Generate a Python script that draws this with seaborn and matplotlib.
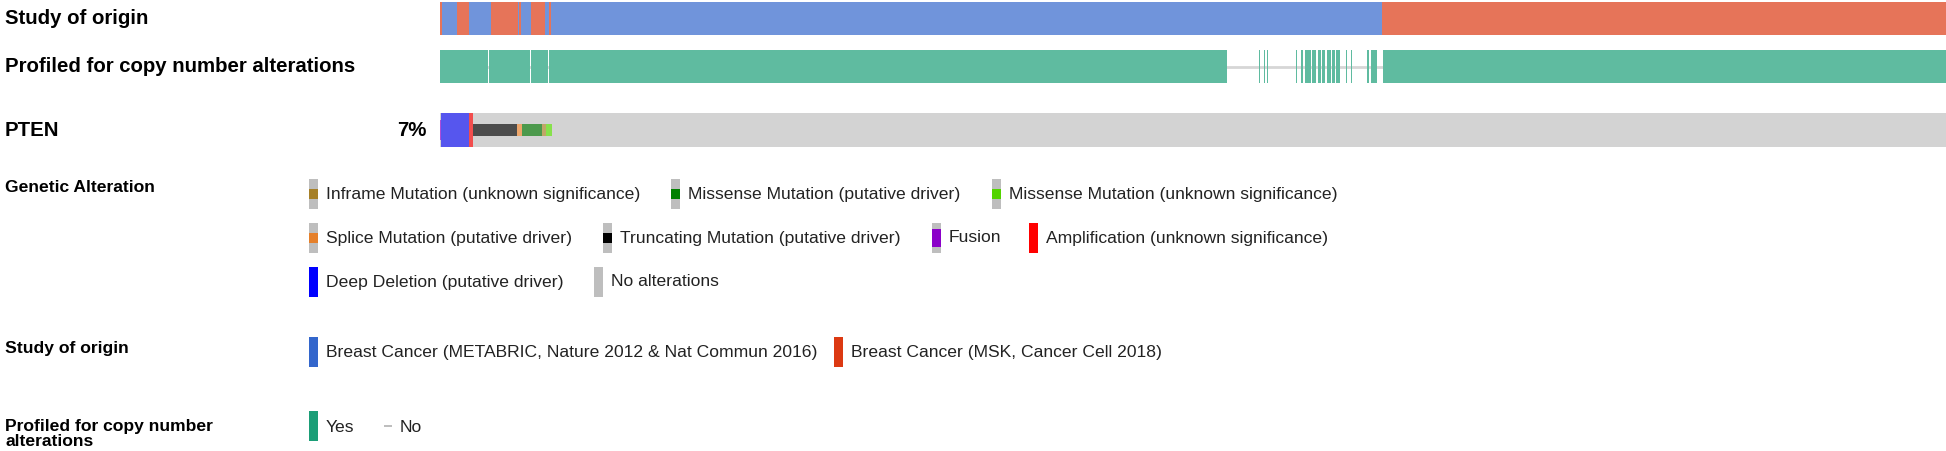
import matplotlib
matplotlib.use("Agg")
import matplotlib.pyplot as plt
from matplotlib.colors import ListedColormap
from matplotlib.patches import Rectangle
import seaborn as sns
import numpy as np

N_SAMPLES = 4427

study_names = ["Breast Cancer (METABRIC, Nature 2012 & Nat Commun 2016)",
               "Breast Cancer (MSK, Cancer Cell 2018)"]
# (study index, run length); 0 = METABRIC, 1 = MSK
study_runs = [(1, 6), (0, 44), (1, 35), (0, 65), (1, 79), (0, 3), (1, 6),
              (0, 29), (1, 35), (0, 2), (1, 5), (0, 12), (1, 6),
              (0, 2441), (1, 1659)]

# sample ranges NOT profiled for copy number alterations
not_profiled = [(141, 144), (265, 268), (318, 320), (2314, 2408),
                (2411, 2422), (2426, 2431), (2434, 2517), (2520, 2531),
                (2537, 2543), (2561, 2564), (2576, 2581), (2590, 2593),
                (2602, 2608), (2620, 2622), (2631, 2634), (2646, 2664),
                (2667, 2678), (2681, 2725), (2731, 2737), (2755, 2772)]

gene = "PTEN"
gene_pct = "7%"
pten_fusion_runs = [("fusion", 3)]
pten_cna_runs = [("none", 3), ("deep", 83), ("amp", 12)]
pten_mut_runs = [("none", 98), ("trunc", 129), ("splice", 15),
                 ("missense_driver", 59), ("inframe", 12), ("missense_vus", 15)]

alt_labels = ["Inframe Mutation (unknown significance)",
              "Missense Mutation (putative driver)",
              "Missense Mutation (unknown significance)",
              "Splice Mutation (putative driver)",
              "Truncating Mutation (putative driver)",
              "Fusion",
              "Amplification (unknown significance)",
              "Deep Deletion (putative driver)",
              "No alterations"]
alt_keys = ["inframe", "missense_driver", "missense_vus", "splice", "trunc",
            "fusion", "amp", "deep", "none"]
profiled_labels = ["Yes", "No"]

# ---- colours ----
legend_colors = {"inframe": "#a68028", "missense_driver": "#008000",
                 "missense_vus": "#53d400", "splice": "#e5802b",
                 "trunc": "#000000", "fusion": "#8b00c9", "amp": "#ff0000",
                 "deep": "#0000ff", "none": "#bebebe"}
track_colors = {"none": "#d3d3d3", "deep": "#5656ee", "amp": "#f24d4d",
                "trunc": "#4c4c4c", "splice": "#eda66b",
                "missense_driver": "#4c994c", "inframe": "#c1a668",
                "missense_vus": "#87e14c", "fusion": "#ae4cd9"}
study_legend_colors = ["#3366cc", "#dc3912"]
study_track_colors = ["#7094db", "#e67459"]
profiled_legend_color = "#1b9e77"
profiled_track_color = "#5fbba0"


def expand(runs, fill=None, n=N_SAMPLES):
    out = [v for v, k in runs for _ in range(k)]
    if fill is not None:
        out += [fill] * (n - len(out))
    return np.array(out, dtype=object)


sns.set_theme(style="white")
plt.rcParams['font.family'] = ['Liberation Sans', 'DejaVu Sans']
plt.rcParams['text.color'] = 'black'

W, H = 1946, 451
fig = plt.figure(figsize=(W / 100, H / 100), dpi=100)


def px_axes(x0, y0, x1, y1):
    return fig.add_axes([x0 / W, 1 - y1 / H, (x1 - x0) / W, (y1 - y0) / H])


def clean(ax):
    ax.set_xlabel("")
    ax.set_ylabel("")
    for s in ax.spines.values():
        s.set_visible(False)


# study of origin track
study = expand(study_runs).astype(float)
ax = px_axes(440, 2, 1946, 35)
sns.heatmap(study[None, :], ax=ax, cmap=ListedColormap(study_track_colors),
            vmin=-0.5, vmax=1.5, cbar=False, xticklabels=False, yticklabels=False)
clean(ax)

# profiled track
prof = np.ones(N_SAMPLES)
for a, b in not_profiled:
    prof[a:b] = 0
ax = px_axes(440, 50, 1946, 83)
sns.heatmap(prof[None, :], mask=(prof == 0)[None, :], ax=ax,
            cmap=ListedColormap([profiled_track_color]), vmin=0, vmax=1,
            cbar=False, xticklabels=False, yticklabels=False)
ax.axhline(0.5, color="#d6d6d6", lw=2, zorder=0.5)
clean(ax)

# gene track: 15 sub-rows so mutations sit in the middle third
keys = list(track_colors.keys())
cna = expand(pten_cna_runs, fill="none")
mut = expand(pten_mut_runs, fill="none")
fus = expand(pten_fusion_runs, fill="none")
mat = np.zeros((15, N_SAMPLES))
for j in range(N_SAMPLES):
    mat[:, j] = keys.index(cna[j])
    if fus[j] != "none":
        mat[3:12, j] = keys.index(fus[j])
    if mut[j] != "none":
        mat[5:10, j] = keys.index(mut[j])
ax = px_axes(440, 113, 1946, 147)
sns.heatmap(mat, ax=ax, cmap=ListedColormap([track_colors[k] for k in keys]),
            vmin=-0.5, vmax=len(keys) - 0.5, cbar=False,
            xticklabels=False, yticklabels=False)
clean(ax)

# ---- labels and legend on a pixel overlay ----
lab = fig.add_axes([0, 0, 1, 1])
lab.set_xlim(0, W)
lab.set_ylim(H, 0)
lab.axis("off")

big = 14.7
small = 12.6
lab.text(5, 18, "Study of origin", fontsize=big, fontweight="bold", va="center")
lab.text(5, 67, "Profiled for copy number alterations", fontsize=big,
         fontweight="bold", va="center")
lab.text(5, 130, gene, fontsize=big, fontweight="bold", va="center")
lab.text(426, 130, gene_pct, fontsize=big, fontweight="bold", va="center", ha="right")

SW, SH = 9, 30


def swatch(x, y, key=None, color=None):
    top = y - SH / 2
    if key in ("inframe", "missense_driver", "missense_vus", "splice", "trunc"):
        lab.add_patch(Rectangle((x, top), SW, SH, color=legend_colors["none"], lw=0))
        lab.add_patch(Rectangle((x, top + SH / 3), SW, SH / 3, color=legend_colors[key], lw=0))
    elif key == "fusion":
        lab.add_patch(Rectangle((x, top), SW, SH, color=legend_colors["none"], lw=0))
        lab.add_patch(Rectangle((x, top + SH * 0.2), SW, SH * 0.6, color=legend_colors[key], lw=0))
    else:
        c = legend_colors[key] if key else color
        lab.add_patch(Rectangle((x, top), SW, SH, color=c, lw=0))


# genetic alteration legend
lab.text(5, 188, "Genetic Alteration", fontsize=small, fontweight="bold", va="center")
alt_pos = [(309, 194), (671, 194), (992, 194),
           (309, 238), (603, 238), (932, 238), (1029, 238),
           (309, 282), (594, 282)]
for (x, y), key, text in zip(alt_pos, alt_keys, alt_labels):
    swatch(x, y, key=key)
    lab.text(x + 17, y, text, fontsize=small, va="center", color="#222222")

# study legend
lab.text(5, 349, "Study of origin", fontsize=small, fontweight="bold", va="center")
for x, c, text in zip([309, 834], study_legend_colors, study_names):
    swatch(x, 352, color=c)
    lab.text(x + 17, 352, text, fontsize=small, va="center", color="#222222")

# profiled legend
lab.text(5, 434, "Profiled for copy number\nalterations", fontsize=small,
         fontweight="bold", va="center", linespacing=1.05)
swatch(309, 426, color=profiled_legend_color)
lab.text(326, 427, profiled_labels[0], fontsize=small, va="center", color="#222222")
lab.add_patch(Rectangle((384, 425), 8, 2, color="#bebebe", lw=0))
lab.text(400, 427, profiled_labels[1], fontsize=small, va="center", color="#222222")

fig.savefig("out.png", dpi=100)
